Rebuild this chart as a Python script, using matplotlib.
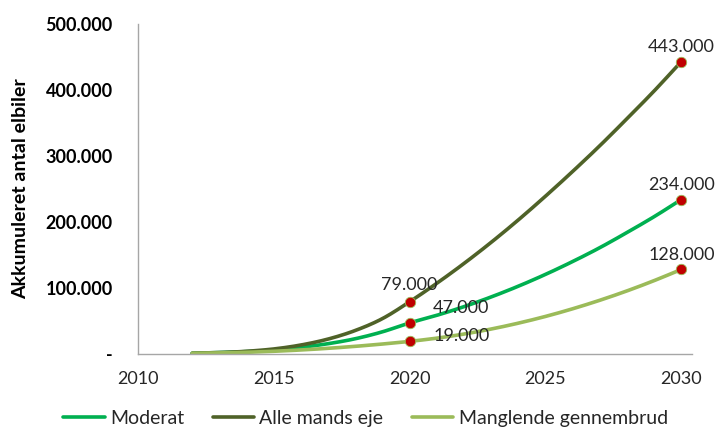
import matplotlib
matplotlib.use("Agg")
import matplotlib.pyplot as plt
import numpy as np
from matplotlib.ticker import FuncFormatter

years = list(range(2012, 2031))
moderat = [1000, 2000, 3500, 6000, 10000, 15500, 23000, 33500, 47000,
           58500, 71600, 86300, 102600, 120500, 140000, 161000, 184000, 208000, 234000]
alle = [1000, 2000, 4000, 7500, 13500, 22500, 35500, 53500, 79000,
        107000, 137000, 169000, 203000, 239000, 276500, 315500, 356500, 398500, 443000]
mangl = [1000, 1500, 2500, 4000, 6000, 8500, 11500, 15000, 19000,
         23900, 30100, 37700, 46600, 56800, 68400, 81300, 95500, 111100, 128000]
series_names = ["Moderat", "Alle mands eje", "Manglende gennembrud"]
colors = ["#00B050", "#4F6228", "#9BBB59"]
xticks = [2010, 2015, 2020, 2025, 2030]
yticks = [0, 100000, 200000, 300000, 400000, 500000]

plt.rcParams['font.family'] = ['Lato', 'DejaVu Sans']


def smooth(x, y, n=20):
    """Catmull-Rom spline through the data points (like Excel's smoothed line)."""
    x = np.asarray(x, float)
    y = np.asarray(y, float)
    px = np.concatenate([[2 * x[0] - x[1]], x, [2 * x[-1] - x[-2]]])
    py = np.concatenate([[2 * y[0] - y[1]], y, [2 * y[-1] - y[-2]]])
    xs, ys = [], []
    t = np.linspace(0, 1, n, endpoint=False)
    for i in range(1, len(px) - 2):
        for arr, out in ((px, xs), (py, ys)):
            p0, p1, p2, p3 = arr[i - 1], arr[i], arr[i + 1], arr[i + 2]
            out.extend(0.5 * ((2 * p1) + (-p0 + p2) * t +
                              (2 * p0 - 5 * p1 + 4 * p2 - p3) * t ** 2 +
                              (-p0 + 3 * p1 - 3 * p2 + p3) * t ** 3))
    xs.append(x[-1])
    ys.append(y[-1])
    return np.array(xs), np.array(ys)


fig = plt.figure(figsize=(7.18, 4.29), dpi=100)
ax = fig.add_axes([0.192, 0.175, 0.772, 0.769])

for vals, name, c in zip([moderat, alle, mangl], series_names, colors):
    sx, sy = smooth(years, vals)
    ax.plot(sx, sy, color=c, lw=2.6, label=name, solid_capstyle='round')

marks = [
    (2020, alle[years.index(2020)], (0, 6), 'center', 'bottom'),
    (2020, moderat[years.index(2020)], (17, 11), 'left', 'center'),
    (2020, mangl[years.index(2020)], (17, 4), 'left', 'center'),
    (2030, alle[-1], (0, 5), 'center', 'bottom'),
    (2030, moderat[-1], (0, 5), 'center', 'bottom'),
    (2030, mangl[-1], (0, 5), 'center', 'bottom'),
]
for x, y, off, ha, va in marks:
    txt = f"{int(y):,}".replace(",", ".")
    ax.plot([x], [y], 'o', color="#C00000", markersize=7.5,
            markeredgecolor="#9BBB59", markeredgewidth=0.6, zorder=5)
    ax.annotate(txt, (x, y), xytext=off, textcoords='offset points',
                ha=ha, va=va, fontsize=13, color='#262626')

ax.set_xlim(2010, 2030.4)
ax.set_ylim(0, 500000)
ax.set_xticks(xticks)
ax.set_yticks(yticks)
ax.yaxis.set_major_formatter(FuncFormatter(
    lambda v, p: "-" if v == 0 else f"{int(v):,}".replace(",", ".")))
ax.tick_params(axis='both', length=0)
ax.tick_params(axis='x', pad=12, labelsize=13, labelcolor='#262626')
ax.tick_params(axis='y', pad=18, labelsize=13)
for lab in ax.get_yticklabels():
    lab.set_fontweight('bold')
ax.set_ylabel("Akkumuleret antal elbiler", fontsize=14, fontweight='bold', labelpad=12)

for s in ['top', 'right']:
    ax.spines[s].set_visible(False)
for s in ['left', 'bottom']:
    ax.spines[s].set_color('#A6A6A6')
    ax.spines[s].set_linewidth(1)

fig.legend(loc='lower left', bbox_to_anchor=(0.064, -0.035), ncol=3, frameon=False,
           fontsize=14, handlelength=2.15, handletextpad=0.26, columnspacing=1.45,
           labelcolor='#262626')

fig.savefig("out.png", dpi=100)
